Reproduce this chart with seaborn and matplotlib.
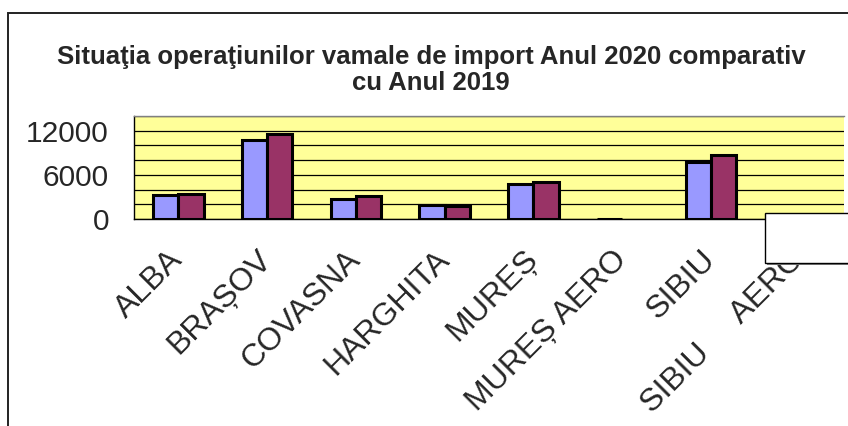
import matplotlib
matplotlib.use('Agg')
import matplotlib.pyplot as plt
import matplotlib.patches as mpatches
import seaborn as sns
import pandas as pd

# date
judete = ['ALBA', 'BRAȘOV', 'COVASNA', 'HARGHITA', 'MUREȘ', 'MUREȘ AERO', 'SIBIU', 'SIBIU AERO']
etichete = ['ALBA', 'BRAȘOV', 'COVASNA', 'HARGHITA', 'MUREȘ', 'MUREȘ AERO', 'SIBIU', 'SIBIU     AERO']
anul_2019 = [3270, 10730, 2690, 1910, 4730, 60, 7770, None]
anul_2020 = [3450, 11550, 3100, 1730, 5050, None, 8640, None]
serii = ['Anul 2019', 'Anul 2020']
culori = ['#9999FF', '#993366']

df = pd.DataFrame({
    'Judet': judete * 2,
    'Valoare': anul_2019 + anul_2020,
    'An': [serii[0]] * len(judete) + [serii[1]] * len(judete),
})

sns.set_style('white')
plt.rcParams['font.family'] = ['Liberation Sans', 'DejaVu Sans']

W, H = 848, 426
fig = plt.figure(figsize=(W / 100, H / 100), dpi=100)
fig.patch.set_facecolor('white')

# chenarul exterior al diagramei (taiat in dreapta si jos)
fig.add_artist(mpatches.Rectangle((7.5 / W, -0.1), 1.2, 1 - 13 / H + 0.1,
                                  transform=fig.transFigure, fill=False,
                                  edgecolor='#222222', linewidth=1.4))

ax = fig.add_axes([134 / W, 1 - 219 / H, (844 - 134) / W, (219 - 116) / H])
ax.set_facecolor('#FFFF99')

sns.barplot(data=df, x='Judet', y='Valoare', hue='An', order=judete,
            palette=culori, saturation=1, width=0.57, edgecolor='black',
            linewidth=2.2, ax=ax, legend=False, zorder=3)

ax.set_ylim(0, 14000)
ax.set_xlim(-0.5, len(judete) - 0.5)
yt = list(range(0, 14001, 2000))
ax.set_yticks(yt)
ax.set_yticklabels([str(v) if v in (0, 6000, 12000) else '' for v in yt], fontsize=21.5)
ax.yaxis.grid(True, color='black', linewidth=0.9, zorder=0)
ax.set_axisbelow(True)

ax.set_xticks(range(len(judete)))
ax.set_xticklabels(etichete, rotation=45, ha='right', va='center',
                   rotation_mode='anchor', fontsize=23)
ax.set_xticks([i - 0.5 for i in range(len(judete) + 1)], minor=True)
ax.tick_params(axis='x', which='major', length=0, pad=26)
ax.tick_params(axis='x', which='minor', length=8, width=1, color='#555555', direction='out')
ax.tick_params(axis='y', length=9, width=1, color='black', direction='out', pad=9)
ax.set_xlabel('')
ax.set_ylabel('')

for s in ['left', 'bottom']:
    ax.spines[s].set_color('black')
    ax.spines[s].set_linewidth(1)
ax.spines['top'].set_color('#808080')
ax.spines['top'].set_linewidth(1)
ax.spines['right'].set_visible(False)

fig.text(431 / W, 1 - 70 / H, 'Situaţia operaţiunilor vamale de import Anul 2020 comparativ\ncu Anul 2019',
         ha='center', va='center', fontsize=18.5, fontweight='bold', linespacing=1.13)

# caseta legendei (continutul ei iese din imagine)
fig.add_artist(mpatches.Rectangle((767 / W, 1 - 265 / H), 0.2, 50 / H,
                                  transform=fig.transFigure, facecolor='#808080',
                                  edgecolor='none'))
fig.add_artist(mpatches.Rectangle((765 / W, 1 - 263 / H), 0.2, 50 / H,
                                  transform=fig.transFigure, facecolor='white',
                                  edgecolor='black', linewidth=1))

fig.savefig('out.png', dpi=100)
